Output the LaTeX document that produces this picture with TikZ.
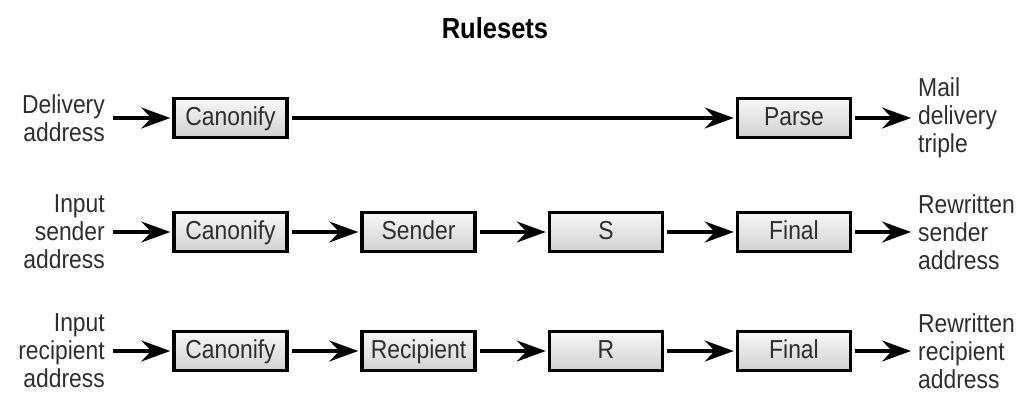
\documentclass[tikz,border=0pt]{standalone}
\usepackage{fontspec}
\setmainfont{Liberation Sans}[FakeStretch=0.88]
\usetikzlibrary{arrows.meta,shadings}
\definecolor{txt}{HTML}{2E2E2E}
\definecolor{boxtop}{HTML}{F7F7F7}
\definecolor{boxbot}{HTML}{D0D0D0}
\begin{document}
\begin{tikzpicture}[x=1pt,y=-1pt,
  rulebox/.style={draw=black, line width=3.5pt, top color=boxtop, bottom color=boxbot,
    minimum width=113pt, minimum height=39pt, inner sep=0pt,
    text height=19pt, text depth=5pt,
    font=\fontsize{26}{29}\selectfont, text=txt},
  lbl/.style={font=\fontsize{26}{28}\selectfont, text=txt, inner ysep=0pt, inner xsep=5pt},
  inlbl/.style={lbl, anchor=east, align=right},
  outlbl/.style={lbl, anchor=west, align=left},
  flow/.style={line width=3.5pt, shorten <=3pt, shorten >=2pt,
    -{Stealth[length=29pt, width=21pt, inset=10pt]}}]
\useasboundingbox (0,0) rectangle (1025,392);
% title
\node[font=\bfseries\fontsize{29}{32}\selectfont, text=black] (title) at (495,28) {Rulesets};
% rows
\def\ra{118}\def\rb{232}\def\rc{351}
% row 1
\node[rulebox] (c1) at (230.5,\ra) {Canonify};
\node[rulebox] (p1) at (794,\ra) {Parse};
\node[inlbl] (in1) at (110,\ra) {Delivery\\address};
\node[outlbl] (out1) at (913,\ra) {Mail\\delivery\\triple};
\draw[flow] (in1.east) -- (c1.west);
\draw[flow] (c1.east) -- (p1.west);
\draw[flow] (p1.east) -- (out1.west);
% row 2
\node[rulebox] (c2) at (230.5,\rb) {Canonify};
\node[rulebox] (s2) at (418.5,\rb) {Sender};
\node[rulebox] (x2) at (606,\rb) {S};
\node[rulebox] (f2) at (794,\rb) {Final};
\node[inlbl] (in2) at (110,\rb) {Input\\sender\\address};
\node[outlbl] (out2) at (913,\rb) {Rewritten\\sender\\address};
\draw[flow] (in2.east) -- (c2.west);
\draw[flow] (c2.east) -- (s2.west);
\draw[flow] (s2.east) -- (x2.west);
\draw[flow] (x2.east) -- (f2.west);
\draw[flow] (f2.east) -- (out2.west);
% row 3
\node[rulebox] (c3) at (230.5,\rc) {Canonify};
\node[rulebox] (r3) at (418.5,\rc) {Recipient};
\node[rulebox] (x3) at (606,\rc) {R};
\node[rulebox] (f3) at (794,\rc) {Final};
\node[inlbl] (in3) at (110,\rc) {Input\\recipient\\address};
\node[outlbl] (out3) at (913,\rc) {Rewritten\\recipient\\address};
\draw[flow] (in3.east) -- (c3.west);
\draw[flow] (c3.east) -- (r3.west);
\draw[flow] (r3.east) -- (x3.west);
\draw[flow] (x3.east) -- (f3.west);
\draw[flow] (f3.east) -- (out3.west);
\end{tikzpicture}
\end{document}
